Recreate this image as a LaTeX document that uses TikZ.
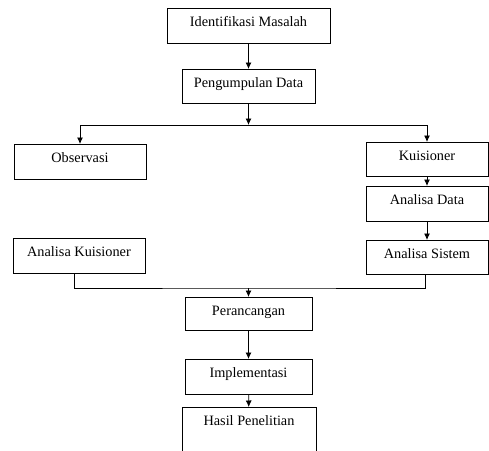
\documentclass[tikz,border=0pt]{standalone}
\usepackage{fontspec}
\setmainfont{Liberation Serif}
\usetikzlibrary{arrows.meta}

\tikzset{
  box/.style={draw, anchor=north, inner xsep=0pt, inner ysep=4pt,
    text height=14pt, text depth=13pt, font=\fontsize{14.3}{16}\selectfont},
  flow/.style={-{Latex[length=6.5pt,width=6pt]}},
  link/.style={-}
}

\begin{document}
\begin{tikzpicture}[x=1pt, y=-1pt, line width=0.8pt]
  \clip (0,0) rectangle (489,450);

  % boxes
  \node[box, minimum width=163pt] (idm) at (248.5,8) {Identifikasi Masalah};
  \node[box, minimum width=133pt, text depth=12pt] (pgd) at (248.5,69) {Pengumpulan Data};
  \node[box, minimum width=132pt] (obs) at (80,144) {Observasi};
  \node[box, minimum width=122pt, text depth=12pt] (kui) at (427,142) {Kuisioner};
  \node[box, minimum width=122pt] (ada) at (427,186) {Analisa Data};
  \node[box, minimum width=132pt] (aku) at (79,238) {Analisa Kuisioner};
  \node[box, minimum width=122pt, text depth=12pt] (asi) at (427,240) {Analisa Sistem};
  \node[box, minimum width=127pt, text depth=11pt] (per) at (248.5,297) {Perancangan};
  \node[box, minimum width=127pt] (imp) at (248.5,359) {Implementasi};
  \node[box, minimum width=134pt, text depth=40pt] (hsl) at (249,407) {Hasil Penelitian};

  \coordinate (split) at (248.5,125);
  \coordinate (merge) at (248.5,288);

  % connectors
  \draw[flow] (idm) -- (pgd);
  \draw[flow] (pgd) -- (split);
  \draw[flow] (split) -| (obs);
  \draw[flow] (split) -| (kui);
  \draw[flow] (kui) -- (ada);
  \draw[flow] (ada) -- (asi);
  \draw[link] ([xshift=-5pt]aku.south) |- (merge) -| ([xshift=-2pt]asi.south);
  \draw[flow] (merge) -- (per);
  \draw[flow] (per) -- (imp);
  \draw[flow] (imp) -- (hsl);
\end{tikzpicture}
\end{document}
